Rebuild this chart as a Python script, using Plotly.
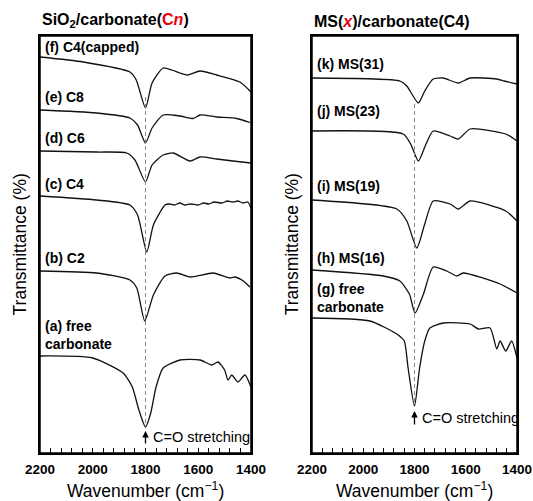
import plotly.graph_objects as go

# ---------------- data (wavenumber cm-1, transmittance offset a.u.) ----------------
# Left panel: SiO2/carbonate(Cn)
f_wn = [2200, 2036, 1859, 1835, 1800, 1775, 1733, 1700, 1669, 1640, 1593, 1530, 1442, 1400]
f_t  = [396, 391, 381, 373, 345, 370, 385, 383, 380, 378, 382, 378, 371, 361]

e_wn = [2200, 1985, 1859, 1830, 1800, 1775, 1733, 1669, 1619, 1593, 1530, 1454, 1404]
e_t  = [343, 340, 335, 328, 310, 325, 338, 337, 334.5, 338, 336, 334.5, 330.5]

d_wn = [2200, 1985, 1871, 1840, 1800, 1775, 1733, 1695, 1631, 1593, 1530, 1468, 1400]
d_t  = [302, 301, 300, 293, 271, 288, 298, 300, 292, 296, 294, 292, 290]

c_wn = [2200, 1985, 1859, 1830, 1795, 1770, 1726, 1710, 1690, 1670, 1650, 1630, 1600,
        1580, 1560, 1540, 1510, 1490, 1468, 1450, 1430, 1412, 1400]
c_t  = [257, 253, 248, 238, 201, 228, 248, 249, 248, 250, 248, 249, 248,
        250, 249, 251, 250, 252, 251, 252, 250, 251, 245]

b_wn = [2200, 1985, 1859, 1833, 1803, 1770, 1726, 1682, 1631, 1543, 1480, 1460, 1429, 1404]
b_t  = [182, 180, 173, 165, 132, 158, 177, 180, 176, 180, 175, 176, 172, 166]

a_wn = [2200, 2000, 1885, 1850, 1825, 1800, 1780, 1760, 1733, 1669, 1593, 1549, 1525,
        1500, 1487, 1473, 1449, 1423, 1400]
a_t  = [97, 95, 80, 66, 43, 26, 40, 66, 85, 93, 93, 88, 91, 83, 73, 78, 71, 78, 66]

# Right panel: MS(x)/carbonate(C4)
k_wn = [2200, 1857, 1830, 1785, 1760, 1727, 1688, 1629, 1583, 1479, 1450, 1400]
k_t  = [375, 372, 367, 350, 362, 374, 375, 370, 375, 374, 372, 369]

j_wn = [2200, 1844, 1815, 1785, 1755, 1727, 1661, 1629, 1583, 1444, 1400]
j_t  = [322, 319, 309, 292, 309, 322, 317, 314, 324, 319, 312]

i_wn = [2200, 1869, 1830, 1791, 1760, 1727, 1661, 1629, 1583, 1444, 1400]
i_t  = [253, 244, 232, 205, 229, 252, 249, 244, 252, 242, 232]

h_wn = [2200, 1922, 1857, 1820, 1798, 1765, 1727, 1674, 1635, 1610, 1466, 1400]
h_t  = [183, 177, 172, 159, 140, 159, 186, 182, 177, 180, 169, 160]

g_wn = [2200, 1974, 1869, 1840, 1825, 1800, 1780, 1760, 1740, 1688, 1583, 1551,
        1505, 1479, 1466, 1444, 1421, 1400]
g_t  = [135, 132, 119, 112, 85, 47, 85, 112, 125, 130, 129, 124, 125, 104, 112, 102, 112, 95]

left_series = [f_wn, f_t], [e_wn, e_t], [d_wn, d_t], [c_wn, c_t], [b_wn, b_t], [a_wn, a_t]
right_series = [k_wn, k_t], [j_wn, j_t], [i_wn, i_t], [h_wn, h_t], [g_wn, g_t]

left_labels = ["(f) C4(capped)", "(e) C8", "(d) C6", "(c) C4", "(b) C2", "(a) free<br>carbonate"]
left_label_y = [406, 356, 315.5, 269, 195, 118]
right_labels = ["(k) MS(31)", "(j) MS(23)", "(i) MS(19)", "(h) MS(16)", "(g) free<br>carbonate"]
right_label_y = [389, 342, 267, 195, 155]

x_major = [2200, 2000, 1800, 1600, 1400]
x_all_ticks = list(range(2200, 1399, -40))
peak = 1800
y_top = 417

# ---------------- figure ----------------
fig = go.Figure()
for wn, t in left_series:
    fig.add_trace(go.Scatter(x=wn, y=t, mode="lines", xaxis="x", yaxis="y",
                             line=dict(color="#111", width=1.3, shape="spline", smoothing=0.6),
                             hoverinfo="skip"))
for wn, t in right_series:
    fig.add_trace(go.Scatter(x=wn, y=t, mode="lines", xaxis="x2", yaxis="y2",
                             line=dict(color="#111", width=1.3, shape="spline", smoothing=0.6),
                             hoverinfo="skip"))

# dashed reference lines
fig.add_trace(go.Scatter(x=[peak, peak], y=[356, 27], mode="lines", xaxis="x", yaxis="y",
                         line=dict(color="#888", width=1, dash="4px,3px"), hoverinfo="skip"))
fig.add_trace(go.Scatter(x=[peak, peak], y=[349, 48], mode="lines", xaxis="x2", yaxis="y2",
                         line=dict(color="#888", width=1, dash="4px,3px"), hoverinfo="skip"))

tick_text = [str(v) if v in x_major else "" for v in x_all_ticks]
xcommon = dict(range=[2200, 1400], tickmode="array", tickvals=x_all_ticks, ticktext=tick_text,
               ticks="inside", ticklen=5, tickwidth=1.2, tickcolor="black",
               showline=True, mirror=True, linecolor="black",
               linewidth=1.5, showgrid=False, zeroline=False, automargin=False,
               ticklabeloverflow="allow", ticklabelstandoff=3,
               tickfont=dict(family="Liberation Sans, Arial", size=13.5, color="black",
                             weight="bold"))
ycommon = dict(range=[0, y_top], showticklabels=False, ticks="", showline=True, mirror=True,
               linecolor="black", linewidth=1.5, showgrid=False, zeroline=False,
               automargin=False)

fig.update_layout(
    width=533, height=501, autosize=False,
    margin=dict(l=40, r=16, t=36, b=48, autoexpand=False),
    paper_bgcolor="white", plot_bgcolor="white",
    showlegend=False,
    font=dict(family="Liberation Sans, Arial", color="black"),
    xaxis=dict(domain=[0, 0.4423], anchor="y", **xcommon),
    yaxis=dict(domain=[0, 1], anchor="x", **ycommon),
    xaxis2=dict(domain=[0.5702, 1], anchor="y2", **xcommon),
    yaxis2=dict(domain=[0, 1], anchor="x2", **ycommon),
)

# frame for each panel
for xa, ya in [("x", "y"), ("x2", "y2")]:
    fig.add_shape(type="rect", xref=xa + " domain", yref=ya + " domain",
                  x0=0, x1=1, y0=0, y1=1, line=dict(color="black", width=1.5),
                  layer="above")

ann = []
lab_font = dict(family="Liberation Sans, Arial", size=14, color="black", weight="bold")
for txt, y in zip(left_labels, left_label_y):
    ann.append(dict(x=2190, y=y, xref="x", yref="y", text=txt, showarrow=False,
                    xanchor="left", yanchor="middle", align="left", font=lab_font))
for txt, y in zip(right_labels, right_label_y):
    ann.append(dict(x=2190, y=y, xref="x2", yref="y2", text=txt, showarrow=False,
                    xanchor="left", yanchor="middle", align="left", font=lab_font))

# titles
title_font = dict(family="Liberation Sans, Arial", size=16, color="black", weight="bold")
ann.append(dict(x=0, y=1.038, xref="paper", yref="paper", xanchor="left", yanchor="middle",
                showarrow=False, font=title_font,
                text="SiO<sub>2</sub>/carbonate(<span style='color:#e3000f'>C<i>n</i></span>)"))
ann.append(dict(x=0.5702, y=1.034, xref="paper", yref="paper", xanchor="left",
                yanchor="middle", showarrow=False, font=title_font,
                text="MS(<span style='color:#e3000f'><i>x</i></span>)/carbonate(C4)"))

# axis titles
ax_font = dict(family="Liberation Sans, Arial", size=17.5, color="black")
for xc in [-0.042, 0.528]:
    ann.append(dict(x=xc, y=0.5, xref="paper", yref="paper", textangle=-90,
                    xanchor="center", yanchor="middle", showarrow=False, font=ax_font,
                    text="Transmittance (%)"))
for xc in [0.2211, 0.7851]:
    ann.append(dict(x=xc, y=-0.089, xref="paper", yref="paper", xanchor="center",
                    yanchor="middle", showarrow=False, font=ax_font,
                    text="Wavenumber (cm<sup>\u22121</sup>)"))

# C=O stretching arrows
co_font = dict(family="Liberation Sans, Arial", size=14.5, color="black")
for xa, ya, y0, y1, ytxt in [("x", "y", 8, 22, 16), ("x2", "y2", 27, 42, 35)]:
    ann.append(dict(x=peak, y=y1, ax=peak, ay=y0, xref=xa, yref=ya, axref=xa, ayref=ya,
                    text="", showarrow=True, arrowhead=2, arrowsize=1, arrowwidth=1.3,
                    arrowcolor="black"))
    ann.append(dict(x=1780, y=ytxt, xref=xa, yref=ya, text="C=O stretching", showarrow=False,
                    xanchor="left", yanchor="middle", font=co_font))

fig.update_layout(annotations=ann)
fig.write_html(
    "out.html",
    config={"displayModeBar": False, "responsive": False},
    post_script="document.body.style.margin='0';document.body.style.overflow='hidden';",
)
